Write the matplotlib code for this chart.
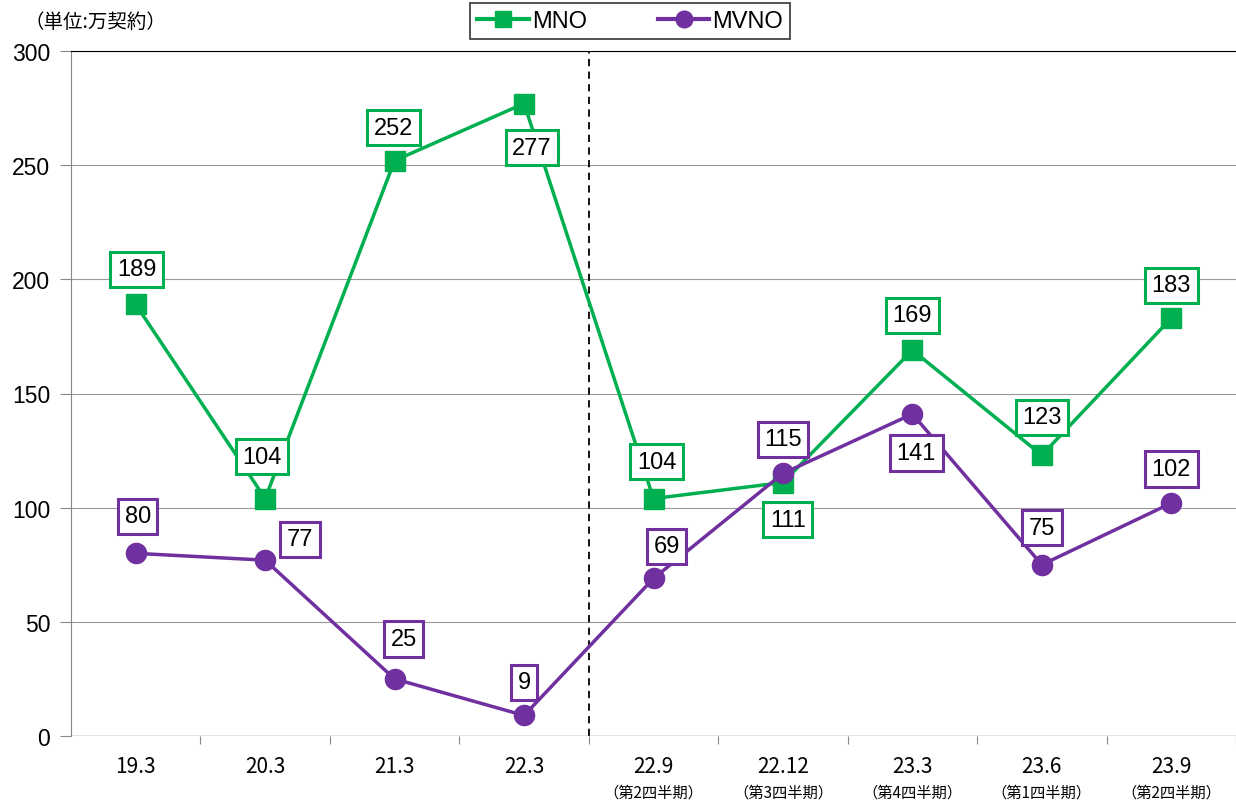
import matplotlib.pyplot as plt
from matplotlib.lines import Line2D

categories = ['19.3', '20.3', '21.3', '22.3', '22.9', '22.12', '23.3', '23.6', '23.9']
quarters = ['', '', '', '', '（第2四半期）', '（第3四半期）', '（第4四半期）', '（第1四半期）', '（第2四半期）']
mno = [189, 104, 252, 277, 104, 111, 169, 123, 183]
mvno = [80, 77, 25, 9, 69, 115, 141, 75, 102]

# label offsets in pixels (dx, dy), y up
mno_off = [(1, 35), (-3, 42), (-1, 33), (8, -44), (3, 37), (5, -37), (0, 35), (0, 38), (0, 33)]
mvno_off = [(2, 37), (35, 21), (9, 40), (0, 33), (13, 32), (0, 34), (4, -39), (0, 37), (0, 34)]

green = '#00b050'
purple = '#7030a0'
cjk = ['Noto Sans CJK JP', 'DejaVu Sans']
num_font = ['Liberation Sans', 'DejaVu Sans']

fig = plt.figure(figsize=(12.36, 8.03), dpi=100)
ax = fig.add_axes([71 / 1236, 66 / 803, 1 - 71 / 1236, (737 - 52) / 803])

x = list(range(len(categories)))
ax.plot(x, mno, color=green, lw=2.5, marker='s', ms=14, zorder=3)
ax.plot(x, mvno, color=purple, lw=2.5, marker='o', ms=14.5, zorder=3)

for i in x:
    ax.annotate(str(mno[i]), (i, mno[i]), xytext=mno_off[i], textcoords='offset pixels',
                ha='center', va='center', fontsize=17, family=num_font, zorder=5,
                bbox=dict(boxstyle='square,pad=0.28', fc='white', ec=green, lw=2.2))
    ax.annotate(str(mvno[i]), (i, mvno[i]), xytext=mvno_off[i], textcoords='offset pixels',
                ha='center', va='center', fontsize=17, family=num_font, zorder=5,
                bbox=dict(boxstyle='square,pad=0.28', fc='white', ec=purple, lw=2.2))

ax.set_xlim(-0.5, len(categories) - 0.5)
ax.set_ylim(0, 300)
ax.set_yticks(range(0, 301, 50))
ax.set_xticks([i + 0.5 for i in x[:-1]] + [len(categories) - 0.5], minor=False)
ax.set_xticklabels([])
ax.tick_params(axis='x', length=6, color='#888888')
ax.tick_params(axis='y', length=8, color='#888888', labelsize=16.5, pad=7)
for lab in ax.get_yticklabels():
    lab.set_family(num_font)

for i in x:
    ax.text(i, -13, categories[i], ha='center', va='center', fontsize=15, family=cjk)
    if quarters[i]:
        ax.text(i, -24.5, quarters[i], ha='center', va='center', fontsize=11, family=cjk)

ax.grid(axis='y', color='#999999', lw=0.8)
ax.set_axisbelow(True)
ax.axvline(3.5, color='black', ls='--', lw=1.3, dashes=(4, 3))
for s in ['right', 'bottom']:
    ax.spines[s].set_visible(False)
ax.spines['left'].set_color('#888888')
ax.spines['top'].set_color('black')
ax.axhline(0, color='#888888', lw=1)

fig.text(25 / 1236, 1 - 22 / 803, '（単位:万契約）', fontsize=14, family=cjk, va='center')

handles = [Line2D([], [], color=green, lw=3, marker='s', ms=11),
           Line2D([], [], color=purple, lw=3, marker='o', ms=12)]
leg = fig.legend(handles, ['MNO', 'MVNO'], loc='center', bbox_to_anchor=(630 / 1236, 1 - 22 / 803),
                 ncol=2, frameon=True, fancybox=False, edgecolor='black',
                 handlelength=2.2, handletextpad=0.1, columnspacing=3.0, borderpad=0.3,
                 borderaxespad=0, prop={'family': num_font, 'size': 17})
leg.get_frame().set_linewidth(1.2)

fig.savefig('out.png', dpi=100)
